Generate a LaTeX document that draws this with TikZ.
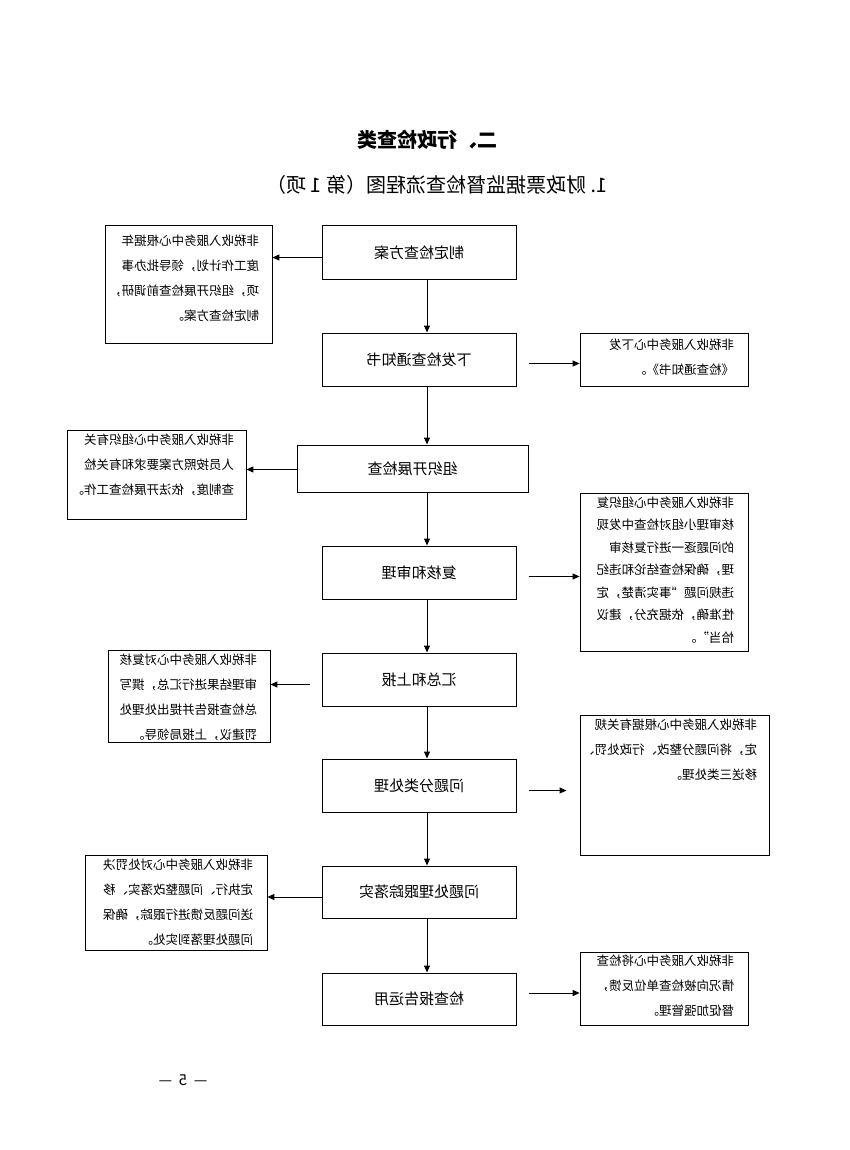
\documentclass[tikz,border=0pt]{standalone}
\usepackage{fontspec}
\setmainfont{Noto Sans CJK SC}
\usetikzlibrary{arrows.meta,calc}
\begin{document}
\begin{tikzpicture}[x=1pt,y=-1pt,
  mbox/.style={draw,line width=1pt,minimum width=194pt,minimum height=53pt,font=\fontsize{15}{18}\selectfont},
  sbox/.style={draw,line width=0.8pt,inner sep=0pt},
  stext/.style={align=left,inner sep=0pt,font=\fontsize{12.5}{25}\selectfont},
  arr/.style={-{Triangle[length=7pt,width=6pt]},line width=1pt}]
\useasboundingbox (0,0) rectangle (850,1150);
\begin{scope}[xscale=-1,transform shape]
\node[font=\fontsize{20}{24}\selectfont\bfseries] (t1) at (-427,140) {二、行政检查类};
\node[font=\fontsize{20}{24}\selectfont] (t2) at (-437,185) {1.\ 财政票据监督检查流程图（第\ 1\ 项）};
\node[font=\fontsize{15}{16}\selectfont] (pg) at (-183,1080) {—\ \ 5\ \ —};

\node[mbox] (m1) at (-419,252.5) {制定检查方案};
\node[mbox] (m2) at (-419,359.5) {下发检查通知书};
\node[mbox,minimum width=231pt,minimum height=47pt] (m3) at (-412.5,468.5) {组织开展检查};
\node[mbox] (m4) at (-419,572.5) {复核和审理};
\node[mbox] (m5) at (-419,679.5) {汇总和上报};
\node[mbox] (m6) at (-419,785.5) {问题分类处理};
\node[mbox,minimum height=52pt] (m7) at (-419,892) {问题处理跟踪落实};
\node[mbox,minimum height=52pt] (m8) at (-419,999) {检查报告运用};

\node[sbox,minimum width=167pt,minimum height=118pt] (s1) at (-188.5,284) {};
\node[stext,anchor=north west] at ($(s1.north west)+(13,10)$) {非税收入服务中心根据年\\度工作计划，领导批办事\\项，组织开展检查前调研，\\制定检查方案。};
\node[sbox,minimum width=168pt,minimum height=53pt] (s2) at (-664,359.5) {};
\node[stext,anchor=north west] at ($(s2.north west)+(14,6)$) {非税收入服务中心下发\\《检查通知书》。};
\node[sbox,minimum width=179pt,minimum height=89pt] (s3) at (-156.5,474.5) {};
\node[stext,anchor=north west] at ($(s3.north west)+(12,4)$) {非税收入服务中心组织有关\\人员按照方案要求和有关检\\查制度，依法开展检查工作。};
\node[sbox,minimum width=168pt,minimum height=158pt] (s4) at (-664,572) {};
\node[stext,anchor=north west,font=\fontsize{12.5}{22.5}\selectfont] at ($(s4.north west)+(14,4)$) {非税收入服务中心组织复\\核审理小组对检查中发现\\的问题逐一进行复核审\\理，确保检查结论和违纪\\违规问题“事实清楚，定\\性准确，依据充分，建议\\恰当”。};
\node[sbox,minimum width=162pt,minimum height=92pt] (s5) at (-189,696) {};
\node[stext,anchor=north west] at ($(s5.north west)+(13,4)$) {非税收入服务中心对复核\\审理结果进行汇总，撰写\\总检查报告并提出处理处\\罚建议，上报局领导。};
\node[sbox,minimum width=189pt,minimum height=140pt] (s6) at (-674.5,785) {};
\node[stext,anchor=north west] at ($(s6.north west)+(12,4)$) {非税收入服务中心根据有关规\\定，将问题分整改、行政处罚、\\移送三类处理。};
\node[sbox,minimum width=182pt,minimum height=95pt] (s7) at (-176,902.5) {};
\node[stext,anchor=north west] at ($(s7.north west)+(14,4)$) {非税收入服务中心对处罚决\\定执行、问题整改落实、移\\送问题反馈进行跟踪，确保\\问题处理落到实处。};
\node[sbox,minimum width=168pt,minimum height=73pt] (s8) at (-664,988.5) {};
\node[stext,anchor=north west] at ($(s8.north west)+(14,3)$) {非税收入服务中心将检查\\情况向被检查单位反馈，\\督促加强管理。};

\coordinate (cx) at ($(m1.south)+(-8,0)$);
\foreach \a/\b in {m1/m2,m2/m3,m3/m4,m4/m5,m5/m6,m6/m7,m7/m8}{
  \draw[arr] (cx |- \a.south) -- (cx |- \b.north);}
\coordinate (a1) at ($(m1.east)+(0,5)$);
\draw[arr] (a1) -- (a1 -| s1.west);
\coordinate (a2) at ($(m2.west)+(-12,4)$);
\draw[arr] (a2) -- (a2 -| s2.east);
\coordinate (a3) at ($(m3.east)+(0,1)$);
\draw[arr] (a3) -- (a3 -| s3.west);
\coordinate (a4) at ($(m4.west)+(-12,4)$);
\draw[arr] (a4) -- (a4 -| s4.east);
\coordinate (a5) at ($(m5.east)+(12,5)$);
\draw[arr] (a5) -- (a5 -| s5.west);
\coordinate (a6) at ($(m6.west)+(-12,5)$);
\coordinate (b6) at ($(m6.west)+(-50,5)$);
\draw[arr] (a6) -- (b6);
\coordinate (a7) at ($(m7.east)+(0,5)$);
\draw[arr] (a7) -- (a7 -| s7.west);
\coordinate (a8) at ($(m8.west)+(-12,-6)$);
\draw[arr] (a8) -- (a8 -| s8.east);
\end{scope}
\end{tikzpicture}
\end{document}
